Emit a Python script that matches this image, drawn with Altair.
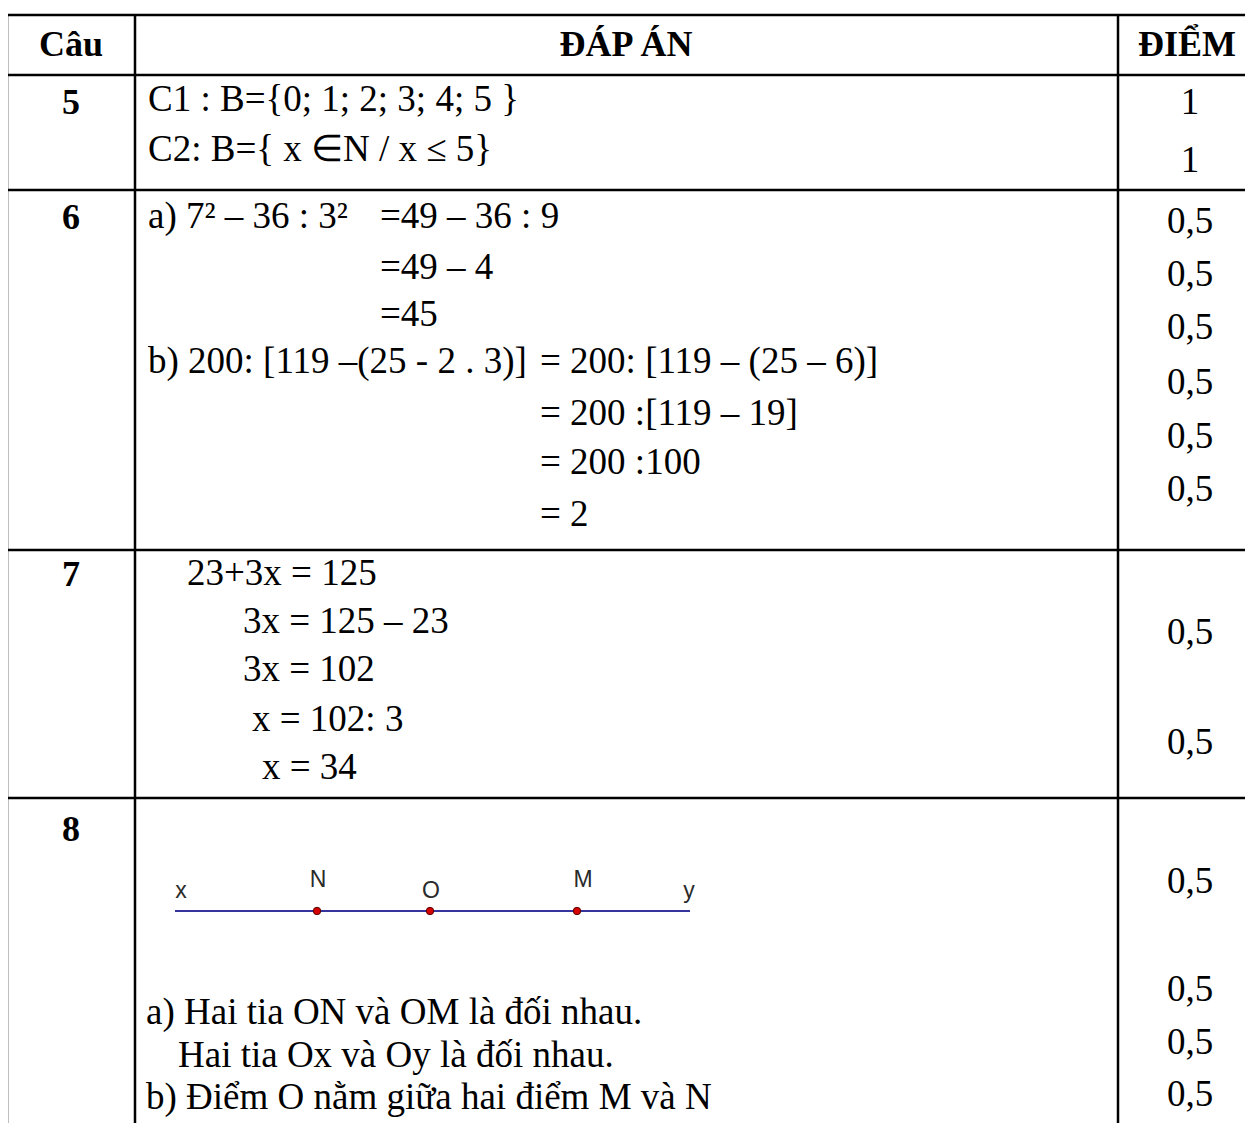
import altair as alt
import pandas as pd

# page geometry (chart area in image pixel coordinates)
OX, OY = 8, 8
W, H = 1237, 1115

SERIF = "Liberation Serif"
SANS = "Liberation Sans"
FS = 37

# ---------------- table grid ----------------
h_rule_y = [15, 75, 190, 550, 798]
v_rule_x = [7, 135, 1118]
grid_top, grid_bottom = 15, 1123
grid_left, grid_right = 6, 1245

# ---------------- header ----------------
header_text = ["Câu", "ĐÁP ÁN", "ĐIỂM"]
header_x = [71, 626, 1187]
header_y = [45, 45, 45]

# ---------------- question numbers ----------------
q_text = ["5", "6", "7", "8"]
q_x = [71, 71, 71, 71]
q_y = [103, 218, 575, 830]

# ---------------- answer lines (left aligned) ----------------
ans_text = [
    "C1 : B={0; 1; 2; 3; 4; 5 }",
    "C2: B={ x ∈N / x ≤ 5}",
    "a) 7² – 36 : 3²",
    "=49 – 36 : 9",
    "=49 – 4",
    "=45",
    "b) 200: [119 –(25 - 2 . 3)]",
    "= 200: [119 – (25 – 6)]",
    "= 200 :[119 – 19]",
    "= 200 :100",
    "= 2",
    "23+3x = 125",
    "3x = 125 – 23",
    "3x = 102",
    "x  = 102: 3",
    "x = 34",
    "a) Hai tia ON và OM là đối nhau.",
    "Hai tia Ox và Oy là đối nhau.",
    "b) Điểm O nằm giữa hai điểm M và N",
]
ans_x = [148, 148, 148, 380, 380, 380, 148, 540, 540, 540, 540,
         187, 243, 243, 252, 262, 146, 178, 146]
ans_y = [100, 150, 217, 217, 268, 315, 362, 362, 414, 463, 515,
         574, 622, 670, 720, 768, 1013, 1056, 1098]

# ---------------- points column ----------------
pts_text = ["1", "1", "0,5", "0,5", "0,5", "0,5", "0,5", "0,5",
            "0,5", "0,5", "0,5", "0,5", "0,5", "0,5"]
pts_y = [103, 161, 222, 275, 328, 383, 437, 490,
         633, 743, 882, 990, 1043, 1095]
pts_x = [1190] * len(pts_text)

# ---------------- figure for question 8 ----------------
seg_x = [175, 690]
seg_y = 911
dot_name = ["N", "O", "M"]
dot_x = [317, 430, 577]
lab_text = ["x", "N", "O", "M", "y"]
lab_x = [181, 318, 431, 583, 689]
lab_y = [891, 880, 891, 880, 891]

xs = alt.Scale(domain=[OX, OX + W])
ys = alt.Scale(domain=[OY, OY + H], reverse=True)
X = lambda f: alt.X(f, type="quantitative", scale=xs, axis=None)
Y = lambda f: alt.Y(f, type="quantitative", scale=ys, axis=None)

hdf = pd.DataFrame({"y": h_rule_y, "x": grid_left, "x2": grid_right})
vdf = pd.DataFrame({"x": v_rule_x, "y": grid_top, "y2": grid_bottom})

hrules = alt.Chart(hdf).mark_rule(color="black", strokeWidth=2.5).encode(
    x=X("x"), x2="x2", y=Y("y"))
vrules = alt.Chart(vdf).mark_rule(color="black", strokeWidth=2.5).encode(
    x=X("x"), y=Y("y"), y2="y2")


def text_layer(texts, xv, yv, align, bold=False, font=SERIF, size=FS, color="black"):
    df = pd.DataFrame({"t": texts, "x": xv, "y": yv})
    return alt.Chart(df).mark_text(
        align=align, baseline="middle", font=font, fontSize=size,
        fontWeight="bold" if bold else "normal", color=color
    ).encode(x=X("x"), y=Y("y"), text="t:N")


header = text_layer(header_text, header_x, header_y, "center", bold=True, size=36)
qnums = text_layer(q_text, q_x, q_y, "center", bold=True, size=36)
answers = text_layer(ans_text, ans_x, ans_y, "left")
points = text_layer(pts_text, pts_x, pts_y, "center")

seg = alt.Chart(pd.DataFrame({"x": [seg_x[0]], "x2": [seg_x[1]], "y": [seg_y]})).mark_rule(
    color="#34349c", strokeWidth=2.2).encode(x=X("x"), x2="x2", y=Y("y"))
dots = alt.Chart(pd.DataFrame({"n": dot_name, "x": dot_x, "y": seg_y})).mark_point(
    filled=True, shape="circle", size=55, color="#d40000", stroke="#5a0000", strokeWidth=1,
    opacity=1).encode(x=X("x"), y=Y("y"))
labels = text_layer(lab_text, lab_x, lab_y, "center", font=SANS, size=23, color="#2a2a2a")

chart = alt.layer(hrules, vrules, header, qnums, answers, points, seg, dots, labels).properties(
    width=W, height=H, padding=0, autosize="none"
).configure_view(stroke=None)

chart.save("out.html", embed_options={"renderer": "svg", "actions": False})
